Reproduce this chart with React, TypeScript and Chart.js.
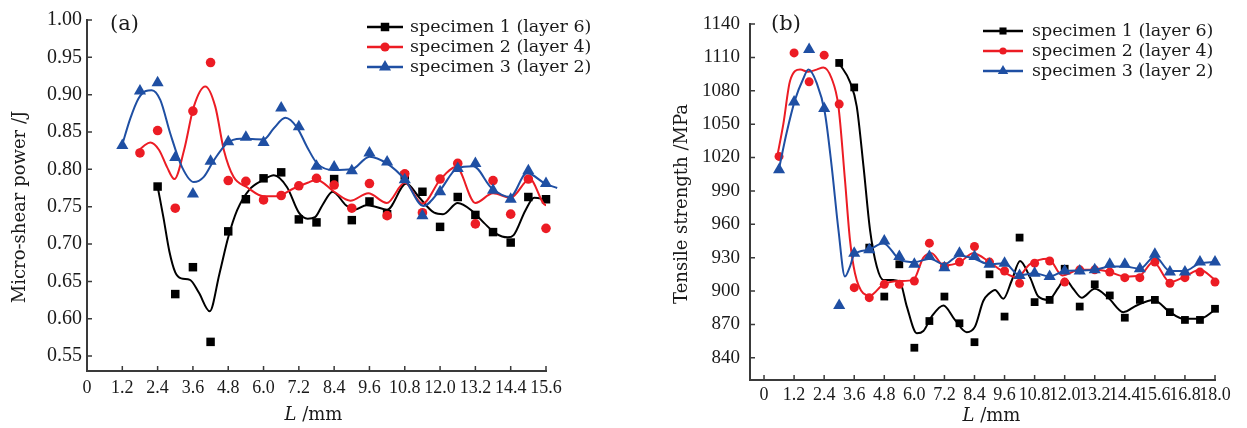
import React, { useEffect, useRef } from 'react';
import { Chart, registerables } from 'chart.js';

Chart.register(...registerables);

const BLACK = '#000000';
const RED = '#ec1c24';
const BLUE = '#1f4fa3';
const AXIS = '#3a3a3a';
const TEXT = '#1a1a1a';
const SERIF = '"DejaVu Serif", serif';
const TICK_SERIF = '"Liberation Serif", serif';

const seriesNames = ['specimen 1 (layer 6)', 'specimen 2 (layer 4)', 'specimen 3 (layer 2)'];

// ---------- Panel (a): micro-shear power ----------
const positionsA = [1.2, 1.8, 2.4, 3.0, 3.6, 4.2, 4.8, 5.4, 6.0, 6.6, 7.2, 7.8, 8.4, 9.0, 9.6, 10.2, 10.8, 11.4, 12.0, 12.6, 13.2, 13.8, 14.4, 15.0, 15.6];
const blueA = [0.832, 0.905, 0.916, 0.816, 0.767, 0.811, 0.837, 0.843, 0.836, 0.882, 0.857, 0.804, 0.803, 0.798, 0.822, 0.810, 0.786, 0.738, 0.770, 0.801, 0.808, 0.772, 0.760, 0.798, 0.781];
const redA = [0.822, 0.852, 0.748, 0.878, 0.943, 0.785, 0.784, 0.759, 0.765, 0.778, 0.788, 0.779, 0.748, 0.781, 0.738, 0.794, 0.742, 0.787, 0.808, 0.727, 0.785, 0.740, 0.787, 0.721];
const blackA = [0.777, 0.633, 0.669, 0.569, 0.717, 0.760, 0.788, 0.796, 0.733, 0.729, 0.787, 0.732, 0.757, 0.740, 0.792, 0.770, 0.723, 0.763, 0.739, 0.716, 0.702, 0.763, 0.760];

const fitBlackA: [number, number][] = [
  [2.4, 0.777], [2.6, 0.735], [2.8, 0.690], [3.0, 0.662], [3.2, 0.654], [3.5, 0.652], [3.8, 0.635], [4.17, 0.610],
  [4.5, 0.660], [4.8, 0.709], [5.1, 0.745], [5.5, 0.772], [6.0, 0.786], [6.35, 0.792], [6.8, 0.776], [7.2, 0.742],
  [7.5, 0.734], [7.75, 0.736], [8.0, 0.752], [8.35, 0.770], [8.8, 0.752], [9.1, 0.746], [9.5, 0.752], [9.8, 0.750],
  [10.2, 0.746], [10.85, 0.781], [11.3, 0.762], [11.8, 0.742], [12.1, 0.740], [12.6, 0.755], [13.1, 0.744],
  [13.5, 0.728], [13.9, 0.714], [14.3, 0.709], [14.5, 0.712], [14.9, 0.745], [15.2, 0.762], [15.6, 0.757], [15.95, 0.738],
];
const fitRedA: [number, number][] = [
  [1.7, 0.823], [1.95, 0.832], [2.15, 0.836], [2.45, 0.826], [2.72, 0.803], [2.97, 0.787], [3.3, 0.826], [3.63, 0.884], [4.02, 0.911],
  [4.36, 0.884], [4.65, 0.826], [4.98, 0.790], [5.44, 0.776], [6.0, 0.764], [6.46, 0.764], [7.0, 0.774], [7.5, 0.782],
  [7.8, 0.786], [8.4, 0.770], [8.95, 0.758], [9.56, 0.768], [10.19, 0.755], [10.8, 0.782], [11.4, 0.754], [12.0, 0.786],
  [12.55, 0.803], [13.2, 0.755], [13.8, 0.768], [14.4, 0.762], [15.05, 0.787], [15.6, 0.752], [15.97, 0.776],
];
const fitBlueA: [number, number][] = [
  [1.19, 0.832], [1.47, 0.868], [1.75, 0.895], [2.0, 0.905], [2.2, 0.906], [2.49, 0.893], [2.83, 0.848], [3.23, 0.803], [3.63, 0.783],
  [3.97, 0.790], [4.31, 0.812], [4.76, 0.835], [5.21, 0.841], [6.0, 0.840], [6.35, 0.855], [6.74, 0.869], [7.14, 0.856],
  [7.48, 0.830], [7.82, 0.808], [8.37, 0.799], [9.0, 0.800], [9.6, 0.817], [10.19, 0.808], [10.81, 0.786], [11.43, 0.751],
  [12.0, 0.772], [12.57, 0.801], [13.13, 0.804], [13.75, 0.775], [14.38, 0.763], [14.95, 0.795], [15.57, 0.781], [15.98, 0.775],
];

const xTicksA = [0, 1.2, 2.4, 3.6, 4.8, 6.0, 7.2, 8.4, 9.6, 10.8, 12.0, 13.2, 14.4, 15.6];
const xLabelsA = ['0', '1.2', '2.4', '3.6', '4.8', '6.0', '7.2', '8.4', '9.6', '10.8', '12.0', '13.2', '14.4', '15.6'];
const yTicksA = [0.55, 0.6, 0.65, 0.7, 0.75, 0.8, 0.85, 0.9, 0.95, 1.0];
const yLabelsA = ['0.55', '0.60', '0.65', '0.70', '0.75', '0.80', '0.85', '0.90', '0.95', '1.00'];

// ---------- Panel (b): tensile strength ----------
const positionsB = [0.6, 1.2, 1.8, 2.4, 3.0, 3.6, 4.2, 4.8, 5.4, 6.0, 6.6, 7.2, 7.8, 8.4, 9.0, 9.6, 10.2, 10.8, 11.4, 12.0, 12.6, 13.2, 13.8, 14.4, 15.0, 15.6, 16.2, 16.8, 17.4, 18.0];
const blueB = [1009, 1070, 1117, 1064, 887, 934, 937, 945, 931, 924, 931, 921, 934, 931, 924, 925, 914, 916, 913, 918, 918, 919, 924, 924, 920, 933, 917, 917, 926, 926];
const redB = [1021, 1114, 1088, 1112, 1068, 903, 894, 906, 906, 909, 943, 922, 926, 940, 926, 918, 907, 925, 927, 908, 919, 919, 917, 912, 912, 926, 907, 912, 917, 908];
const blackB = [1105, 1083, 939, 895, 924, 849, 873, 895, 871, 854, 915, 877, 948, 890, 892, 920, 886, 906, 896, 876, 892, 892, 881, 874, 874, 884];

const fitBlackB: [number, number][] = [
  [3.0, 1104.6], [3.43, 1088], [3.7, 1066], [3.97, 1012], [4.23, 955], [4.5, 922], [4.76, 910], [5.16, 910], [5.43, 908],
  [5.7, 886], [6.1, 862], [6.36, 864], [6.69, 877], [7.16, 887], [7.62, 874], [8.09, 863], [8.42, 868], [8.75, 891],
  [9.0, 898], [9.22, 901], [9.55, 893], [9.88, 909], [10.22, 927], [10.62, 912], [10.95, 895], [11.35, 892], [11.75, 903],
  [12.0, 911], [12.34, 902], [12.68, 894], [13.2, 902], [13.74, 894], [14.34, 881], [14.87, 887], [15.54, 892],
  [16.2, 881], [16.73, 875], [17.4, 875], [18.0, 883],
];
const fitRedB: [number, number][] = [
  [0.51, 1019], [0.77, 1050], [1.04, 1089], [1.44, 1099], [1.77, 1097], [2.1, 1099], [2.37, 1101], [2.7, 1091],
  [2.97, 1066], [3.23, 1000], [3.43, 946], [3.63, 916], [3.96, 898], [4.23, 896], [4.76, 906], [5.43, 909], [5.96, 910],
  [6.36, 930], [6.69, 934], [7.16, 923], [7.82, 926], [8.35, 934], [9.0, 926], [9.5, 918], [10.1, 912], [10.6, 924],
  [11.35, 929], [11.9, 914], [12.6, 919], [13.27, 919], [13.8, 917], [14.4, 913], [15.0, 914], [15.54, 926], [16.2, 908],
  [16.8, 913], [17.4, 919], [18.0, 910],
];
const fitBlueB: [number, number][] = [
  [0.6, 1010], [0.9, 1042], [1.24, 1072], [1.57, 1091], [1.77, 1099], [2.1, 1087], [2.43, 1060], [2.7, 1012], [2.97, 955],
  [3.23, 913], [3.43, 922], [3.6, 933], [4.16, 937], [4.76, 943], [5.43, 928], [6.02, 926], [6.62, 929], [7.2, 924],
  [7.8, 932], [8.4, 929], [9.0, 924], [9.6, 925], [10.2, 914], [10.8, 916], [11.4, 913], [12.0, 918], [12.6, 918.5],
  [13.2, 919], [13.8, 922], [14.4, 922], [15.0, 920], [15.6, 931], [16.2, 918], [16.8, 918], [17.4, 925], [18.0, 926],
];

const xTicksB = [0, 1.2, 2.4, 3.6, 4.8, 6.0, 7.2, 8.4, 9.6, 10.8, 12.0, 13.2, 14.4, 15.6, 16.8, 18.0];
const xLabelsB = ['0', '1.2', '2.4', '3.6', '4.8', '6.0', '7.2', '8.4', '9.6', '10.8', '12.0', '13.2', '14.4', '15.6', '16.8', '18.0'];
const yTicksB = [840, 870, 900, 930, 960, 990, 1020, 1050, 1080, 1110, 1140];
const yLabelsB = ['840', '870', '900', '930', '960', '990', '1020', '1050', '1080', '1110', '1140'];

type Series = { name: string; color: string; style: string; radius: number; legendRadius: number; xs: number[]; ys: number[]; curve: [number, number][] };
type Spec = {
  canvasW: number; canvasH: number; areaL: number; areaR: number; areaT: number; areaB: number;
  xMin: number; xMax: number; yMin: number; yMax: number;
  xTicks: number[]; xLabels: string[]; yTicks: number[]; yLabels: string[];
  xTickPad: number; yTickPad: number; yTickSize: number; xTickSize: number;
  series: Series[];
  yTitle: string; yTitleX: number; yTitleY: number; xTitleX: number; xTitleY: number;
  tag: string; tagX: number; tagY: number;
  legX0: number; legX1: number; legText: number; legRows: number[];
};

const specA: Spec = {
  canvasW: 620, canvasH: 428, areaL: 87, areaR: 546, areaT: 20, areaB: 371,
  xMin: 0, xMax: 15.6, yMin: 0.53, yMax: 1.0,
  xTicks: xTicksA, xLabels: xLabelsA, yTicks: yTicksA, yLabels: yLabelsA,
  xTickPad: 6, yTickPad: 5, yTickSize: 20, xTickSize: 18,
  series: [
    { name: seriesNames[0], color: BLACK, style: 'rect', radius: 6, legendRadius: 6, xs: positionsA.slice(2), ys: blackA, curve: fitBlackA },
    { name: seriesNames[1], color: RED, style: 'circle', radius: 4.8, legendRadius: 4.6, xs: positionsA.slice(1), ys: redA, curve: fitRedA },
    { name: seriesNames[2], color: BLUE, style: 'triangle', radius: 7, legendRadius: 7, xs: positionsA, ys: blueA, curve: fitBlueA },
  ],
  yTitle: 'Micro-shear power /J', yTitleX: 25, yTitleY: 207, xTitleX: 313.5, xTitleY: 420,
  tag: '(a)', tagX: 110, tagY: 29.5,
  legX0: 367, legX1: 403, legText: 410, legRows: [27, 47, 67],
};

const specB: Spec = {
  canvasW: 627, canvasH: 428, areaL: 130, areaR: 595, areaT: 24, areaB: 380,
  xMin: -0.56, xMax: 18.0, yMin: 820, yMax: 1140,
  xTicks: xTicksB, xLabels: xLabelsB, yTicks: yTicksB, yLabels: yLabelsB,
  xTickPad: 4, yTickPad: 10, yTickSize: 19, xTickSize: 18,
  series: [
    { name: seriesNames[0], color: BLACK, style: 'rect', radius: 5.5, legendRadius: 5, xs: positionsB.slice(4), ys: blackB, curve: fitBlackB },
    { name: seriesNames[1], color: RED, style: 'circle', radius: 4.5, legendRadius: 3.6, xs: positionsB, ys: redB, curve: fitRedB },
    { name: seriesNames[2], color: BLUE, style: 'triangle', radius: 7, legendRadius: 6, xs: positionsB, ys: blueB, curve: fitBlueB },
  ],
  yTitle: 'Tensile strength /MPa', yTitleX: 67, yTitleY: 204, xTitleX: 371.5, xTitleY: 421,
  tag: '(b)', tagX: 151, tagY: 30,
  legX0: 363, legX1: 403, legText: 412, legRows: [31, 51, 71],
};

function drawMarker(ctx: CanvasRenderingContext2D, style: string, x: number, y: number, r: number, color: string) {
  ctx.fillStyle = color;
  ctx.beginPath();
  if (style === 'rect') {
    const s = r * Math.SQRT1_2;
    ctx.rect(x - s, y - s, 2 * s, 2 * s);
  } else if (style === 'circle') {
    ctx.arc(x, y, r, 0, Math.PI * 2);
  } else {
    const a = (2 * Math.PI) / 3;
    ctx.moveTo(x, y - r);
    ctx.lineTo(x + r * Math.sin(a), y - r * Math.cos(a));
    ctx.lineTo(x + r * Math.sin(2 * a), y - r * Math.cos(2 * a));
    ctx.closePath();
  }
  ctx.fill();
}

function makeDecor(spec: Spec) {
  return {
    id: 'decor',
    afterDraw(chart: any) {
      const ctx: CanvasRenderingContext2D = chart.ctx;
      const { left, bottom } = chart.chartArea;
      const xs = chart.scales.x;
      const ys = chart.scales.y;
      ctx.save();
      // inward tick marks
      ctx.strokeStyle = AXIS;
      ctx.lineWidth = 1.5;
      ctx.beginPath();
      xs.ticks.forEach((t: any) => {
        const px = xs.getPixelForValue(t.value);
        if (px - left < 2) return;
        ctx.moveTo(px, bottom);
        ctx.lineTo(px, bottom - 5);
      });
      ys.ticks.forEach((t: any) => {
        const py = ys.getPixelForValue(t.value);
        ctx.moveTo(left, py);
        ctx.lineTo(left + 5, py);
      });
      ctx.stroke();

      ctx.fillStyle = TEXT;
      // y title
      ctx.save();
      ctx.translate(spec.yTitleX, spec.yTitleY);
      ctx.rotate(-Math.PI / 2);
      ctx.font = `18px ${SERIF}`;
      ctx.textAlign = 'center';
      ctx.textBaseline = 'alphabetic';
      ctx.fillText(spec.yTitle, 0, 0);
      ctx.restore();

      // x title with italic L
      ctx.textBaseline = 'alphabetic';
      ctx.textAlign = 'left';
      const italic = `italic 18px ${SERIF}`;
      const regular = `18px ${SERIF}`;
      ctx.font = italic;
      const wL = ctx.measureText('L').width;
      ctx.font = regular;
      const wRest = ctx.measureText(' /mm').width;
      const start = spec.xTitleX - (wL + wRest) / 2;
      ctx.font = italic;
      ctx.fillText('L', start, spec.xTitleY);
      ctx.font = regular;
      ctx.fillText(' /mm', start + wL, spec.xTitleY);

      // panel tag
      ctx.font = `21px ${SERIF}`;
      ctx.fillText(spec.tag, spec.tagX, spec.tagY);

      // legend
      spec.series.forEach((s, i) => {
        const y = spec.legRows[i];
        ctx.strokeStyle = s.color;
        ctx.lineWidth = 2.5;
        ctx.beginPath();
        ctx.moveTo(spec.legX0, y);
        ctx.lineTo(spec.legX1, y);
        ctx.stroke();
        drawMarker(ctx, s.style, (spec.legX0 + spec.legX1) / 2, y, s.legendRadius, s.color);
        ctx.fillStyle = TEXT;
        ctx.font = `17.5px ${SERIF}`;
        ctx.textBaseline = 'middle';
        ctx.textAlign = 'left';
        ctx.fillText(s.name, spec.legText, y);
      });
      ctx.restore();
    },
  };
}

function buildConfig(spec: Spec): any {
  const datasets: any[] = [];
  spec.series.forEach((s, i) => {
    const rank = spec.series.length - 1 - i;
    datasets.push({
      type: 'scatter',
      label: s.name,
      data: s.xs.map((x, k) => ({ x, y: s.ys[k] })),
      showLine: false,
      pointStyle: s.style,
      pointRadius: s.radius,
      pointHoverRadius: s.radius,
      pointBackgroundColor: s.color,
      pointBorderColor: s.color,
      pointBorderWidth: 0,
      order: rank * 2,
      clip: false,
    });
    datasets.push({
      type: 'line',
      label: s.name + ' fit',
      data: s.curve.map(([x, y]) => ({ x, y })),
      borderColor: s.color,
      borderWidth: 2,
      pointRadius: 0,
      pointHoverRadius: 0,
      cubicInterpolationMode: 'monotone',
      fill: false,
      order: rank * 2 + 1,
      clip: false,
    });
  });

  return {
    type: 'line',
    data: { datasets },
    options: {
      responsive: false,
      animation: false,
      events: [],
      layout: { padding: { left: 0, top: spec.areaT, right: spec.canvasW - spec.areaR, bottom: 0 } },
      plugins: { legend: { display: false }, tooltip: { enabled: false } },
      scales: {
        x: {
          type: 'linear',
          bounds: 'data',
          min: spec.xMin,
          max: spec.xMax,
          afterFit: (s: any) => { s.height = spec.canvasH - spec.areaB; },
          afterBuildTicks: (s: any) => { s.ticks = spec.xTicks.map((v) => ({ value: v })); },
          grid: { display: false, drawTicks: false },
          border: { display: true, color: AXIS, width: 2 },
          ticks: {
            autoSkip: false,
            maxRotation: 0,
            minRotation: 0,
            padding: spec.xTickPad,
            color: TEXT,
            font: { family: TICK_SERIF, size: spec.xTickSize },
            callback: (_v: any, idx: number) => spec.xLabels[idx],
          },
        },
        y: {
          type: 'linear',
          bounds: 'data',
          min: spec.yMin,
          max: spec.yMax,
          afterFit: (s: any) => { s.width = spec.areaL; },
          afterBuildTicks: (s: any) => { s.ticks = spec.yTicks.map((v) => ({ value: v })); },
          grid: { display: false, drawTicks: false },
          border: { display: true, color: AXIS, width: 2 },
          ticks: {
            autoSkip: false,
            padding: spec.yTickPad,
            color: TEXT,
            font: { family: TICK_SERIF, size: spec.yTickSize },
            callback: (_v: any, idx: number) => spec.yLabels[idx],
          },
        },
      },
    },
    plugins: [makeDecor(spec)],
  };
}

function Panel({ spec, left }: { spec: Spec; left: number }) {
  const ref = useRef<HTMLCanvasElement>(null);
  useEffect(() => {
    if (!ref.current) return;
    const chart = new Chart(ref.current, buildConfig(spec));
    return () => chart.destroy();
  }, [spec]);
  return (
    <canvas
      ref={ref}
      width={spec.canvasW}
      height={spec.canvasH}
      style={{ position: 'absolute', left, top: 0, width: spec.canvasW, height: spec.canvasH }}
    />
  );
}

export default function App() {
  return (
    <div style={{ position: 'absolute', left: 0, top: 0, width: 1247, height: 428, background: '#ffffff', overflow: 'hidden' }}>
      <Panel spec={specA} left={0} />
      <Panel spec={specB} left={620} />
    </div>
  );
}
